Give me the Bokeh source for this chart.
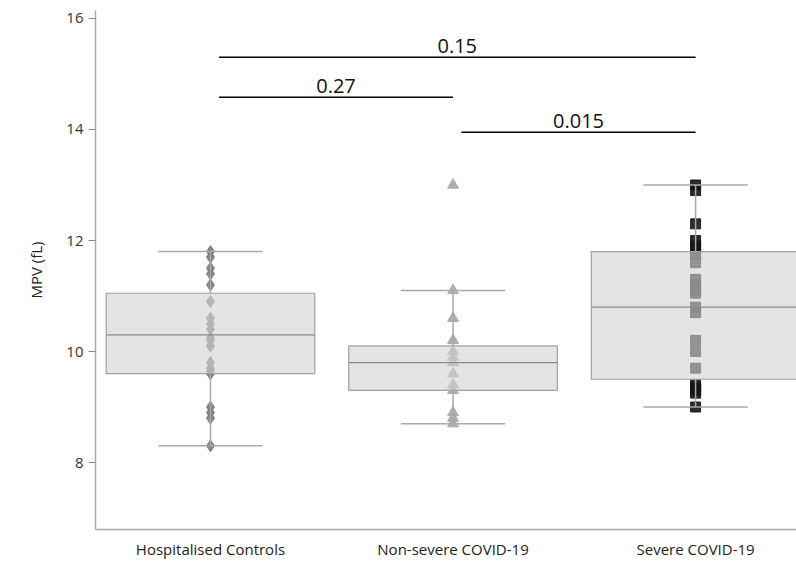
from bokeh.plotting import figure
from bokeh.models import FixedTicker, ColumnDataSource, Range1d
from bokeh.core.properties import value
from bokeh.embed import file_html
from bokeh.resources import INLINE

groups = ["Hospitalised Controls", "Non-severe COVID-19", "Severe COVID-19"]

hosp_vals = [11.8, 11.7, 11.5, 11.4, 11.2, 10.9, 10.6, 10.5, 10.4, 10.25, 10.2, 10.1,
             9.8, 9.7, 9.65, 9.6, 9.0, 8.9, 8.8, 8.3]
nonsev_vals = [13.0, 11.1, 10.6, 10.2, 10.0, 9.9, 9.8, 9.6, 9.4, 9.3, 8.9, 8.8, 8.7]
severe_vals = [13.0, 12.9, 12.3, 12.0, 11.9, 11.85, 11.75, 11.6, 11.3, 11.2, 11.1, 11.05,
               10.8, 10.7, 10.2, 10.0, 9.7, 9.4, 9.35, 9.3, 9.25, 9.0]

q1 = [9.6, 9.3, 9.5]
median = [10.3, 9.8, 10.8]
q3 = [11.05, 10.1, 11.8]
whisk_lo = [8.3, 8.7, 9.0]
whisk_hi = [11.8, 11.1, 13.0]

point_colors = ["#7a7a7a", "#a6a6a6", "#151515"]
markers = ["diamond", "triangle", "square"]
marker_sizes = [12, 11, 10]

comparisons = [(0, 2, 15.3, "0.15"), (0, 1, 14.58, "0.27"), (1, 2, 13.95, "0.015")]

p = figure(width=796, height=568, output_backend="svg", toolbar_location=None,
           x_range=Range1d(-0.474, 2.416), y_range=Range1d(6.793, 16.144),
           min_border_left=95, min_border_top=10, min_border_right=0, min_border_bottom=39)
p.outline_line_color = None
p.grid.visible = False
p.background_fill_color = "white"

# points
for i, vals in enumerate([hosp_vals, nonsev_vals, severe_vals]):
    src = ColumnDataSource(dict(x=[i] * len(vals), y=vals))
    p.scatter("x", "y", source=src, marker=markers[i], size=marker_sizes[i],
              fill_color=point_colors[i], line_color=point_colors[i], alpha=0.9)

xs = [0, 1, 2]
# whiskers
p.segment(x0=xs, y0=whisk_lo, x1=xs, y1=q1, line_color="#aaaaaa", line_width=1.5)
p.segment(x0=xs, y0=q3, x1=xs, y1=whisk_hi, line_color="#aaaaaa", line_width=1.5)
p.segment(x0=[x - 0.215 for x in xs], y0=whisk_lo, x1=[x + 0.215 for x in xs], y1=whisk_lo,
          line_color="#aaaaaa", line_width=1.5)
p.segment(x0=[x - 0.215 for x in xs], y0=whisk_hi, x1=[x + 0.215 for x in xs], y1=whisk_hi,
          line_color="#aaaaaa", line_width=1.5)
# boxes (semi-transparent, drawn over points)
p.quad(left=[x - 0.43 for x in xs], right=[x + 0.43 for x in xs], bottom=q1, top=q3,
       fill_color="#d4d4d4", fill_alpha=0.62, line_color="#a0a0a0", line_width=1.2)
p.segment(x0=[x - 0.43 for x in xs], y0=median, x1=[x + 0.43 for x in xs], y1=median,
          line_color="#8a8a8a", line_width=1.2)

# significance bars
p.segment(x0=[c[0] + 0.035 for c in comparisons], y0=[c[2] for c in comparisons],
          x1=[c[1] for c in comparisons], y1=[c[2] for c in comparisons],
          line_color="black", line_width=1.5)
p.text(x=[(c[0] + 0.035 + c[1]) / 2 for c in comparisons], y=[c[2] + 0.07 for c in comparisons],
       text=[c[3] for c in comparisons], text_font=value("Open Sans"), text_font_size="20px",
       text_align="center", text_baseline="bottom", text_color="#111111")

# axes
p.xaxis.ticker = FixedTicker(ticks=[0, 1, 2])
p.xaxis.major_label_overrides = {0: groups[0], 1: groups[1], 2: groups[2]}
p.xaxis.major_tick_line_color = None
p.xaxis.minor_tick_line_color = None
p.xaxis.axis_line_color = "#aaaaaa"
p.xaxis.axis_line_width = 1.5
p.xaxis.major_label_text_font = "Open Sans"
p.xaxis.major_label_text_font_size = "15px"
p.xaxis.major_label_text_color = "#222222"
p.xaxis.major_label_standoff = 3

p.yaxis.ticker = FixedTicker(ticks=[8, 10, 12, 14, 16])
p.yaxis.minor_tick_line_color = None
p.yaxis.axis_line_color = "#aaaaaa"
p.yaxis.axis_line_width = 1.5
p.yaxis.major_tick_line_color = "#888888"
p.yaxis.major_tick_out = 7
p.yaxis.major_tick_in = 0
p.yaxis.major_label_text_font = "Open Sans"
p.yaxis.major_label_text_font_size = "15px"
p.yaxis.major_label_text_color = "#333333"
p.yaxis.major_label_standoff = 5
p.yaxis.axis_label = "MPV (fL)"
p.yaxis.axis_label_text_font = "Open Sans"
p.yaxis.axis_label_text_font_style = "normal"
p.yaxis.axis_label_text_font_size = "15px"
p.yaxis.axis_label_text_color = "#222222"
p.yaxis.axis_label_standoff = 17

open("out.html", "w").write(file_html(p, INLINE))
